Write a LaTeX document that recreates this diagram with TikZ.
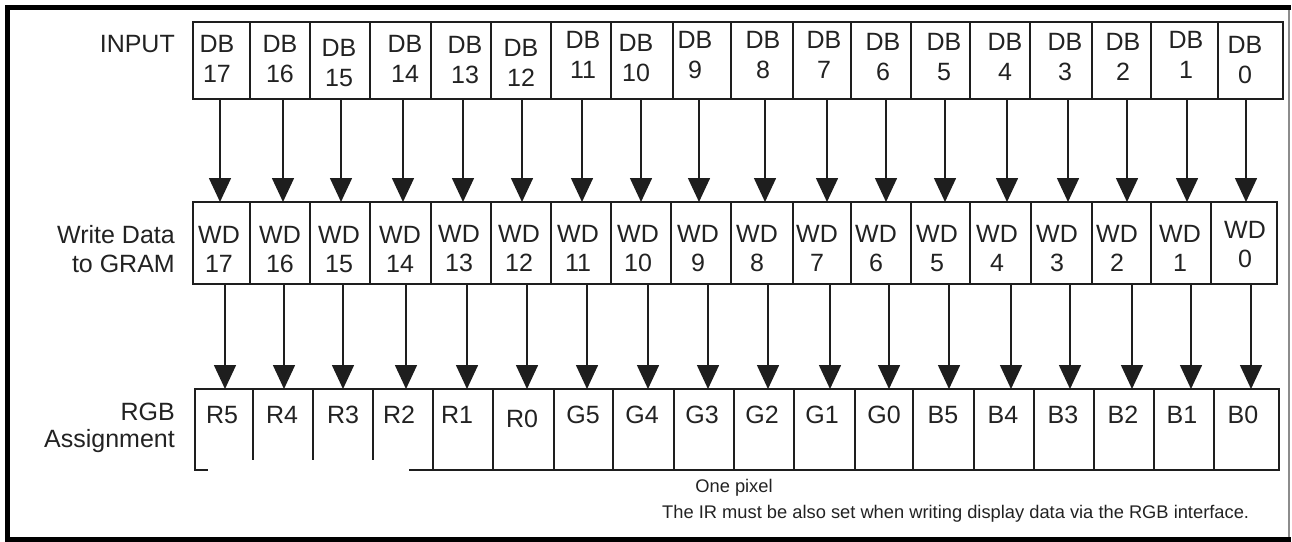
\documentclass[tikz,border=0pt]{standalone}
\usepackage{fontspec}
\setmainfont{Liberation Sans}
\usetikzlibrary{arrows.meta}
\definecolor{ink}{HTML}{1E1E1E}
\definecolor{txtc}{HTML}{222222}
\tikzset{
  cell/.style={draw=ink, line width=1.6pt, inner sep=0pt, outer sep=0pt, rectangle},
  txt/.style={text=txtc, inner sep=0pt, font=\fontsize{25}{29}\selectfont},
  small/.style={text=txtc, inner sep=0pt, font=\fontsize{18.3}{21}\selectfont},
  arr/.style={draw=ink, line width=1.6pt, -{Triangle[width=22pt,length=24pt]}},
}
\begin{document}
\begin{tikzpicture}[x=1pt,y=-1pt]
\useasboundingbox (0,0) rectangle (1292,541);
% frame
\draw[line width=1.2pt, black!45] (1289,7.5) -- (1289,539);
\draw[line width=5pt, black] (1291,7.5) -- (7.5,7.5) -- (7.5,539) -- (1291,539);
% row labels
\node[txt, anchor=base east] (linput) at (175,52) {INPUT};
\node[txt, anchor=base east] (lwd1) at (175,243) {Write Data};
\node[txt, anchor=base east] (lwd2) at (175,272) {to GRAM};
\node[txt, anchor=base east] (lrgb1) at (175,420) {RGB};
\node[txt, anchor=base east] (lrgb2) at (175,447) {Assignment};
% INPUT row
\foreach \n/\l/\r/\tx/\ty in {17/193/250/217/52, 16/250/310/280/52, 15/310/370/339/56,
  14/370/431/405/52, 13/431/491/465/53, 12/491/551/521/56, 11/551/611/583/48,
  10/611/673/636/51, 9/673/731/695/48, 8/731/793/763/48, 7/793/851/824/48,
  6/851/911/883/50, 5/911/970/944/50, 4/970/1030/1005/50, 3/1030/1092/1065/50,
  2/1092/1151/1123/50, 1/1151/1218/1186/48, 0/1218/1283/1245/53}{
  \pgfmathsetmacro\cw{\r-\l}
  \node[cell, minimum width=\cw pt, minimum height=77pt] (d\n) at ({(\l+\r)/2},60.5) {};
  \node[txt, anchor=base] (dta\n) at (\tx,\ty) {DB};
  \node[txt, anchor=base] (dtb\n) at (\tx,\ty+30) {\n};
}
% WD row
\foreach \n/\l/\r/\tx/\ty in {17/193/250/219/243, 16/250/310/280/243, 15/310/370/339/243,
  14/370/431/400/243, 13/431/491/459/242, 12/491/551/519/242, 11/551/611/578/242,
  10/611/671/638/242, 9/671/731/698/242, 8/731/793/757/242, 7/793/851/817/242,
  6/851/911/876/242, 5/911/970/937/242, 4/970/1031/997/242, 3/1031/1092/1057/242,
  2/1092/1151/1117/242, 1/1151/1211/1180/242, 0/1211/1277/1245/238}{
  \pgfmathsetmacro\cw{\r-\l}
  \node[cell, minimum width=\cw pt, minimum height=82pt] (w\n) at ({(\l+\r)/2},243) {};
  \node[txt, anchor=base] (wta\n) at (\tx,\ty) {WD};
  \node[txt, anchor=base] (wtb\n) at (\tx,\ty+29) {\n};
}
% RGB row
\foreach \n/\t/\l/\r/\tx/\ty in {17/R5/195/253/222/423, 16/R4/253/313/282/423, 15/R3/313/373/343/423,
  14/R2/373/433/399/423, 13/R1/433/493/457/423, 12/R0/493/554/522/427, 11/G5/554/613/583/423,
  10/G4/613/674/642/423, 9/G3/674/734/702/423, 8/G2/734/794/762/423, 7/G1/794/855/822/423,
  6/G0/855/913/884/423, 5/B5/913/974/943/423, 4/B4/974/1034/1003/423, 3/B3/1034/1094/1063/423,
  2/B2/1094/1154/1123/423, 1/B1/1154/1214/1182/423, 0/B0/1214/1279/1243/423}{
  \pgfmathsetmacro\cw{\r-\l}
  \node[cell, minimum width=\cw pt, minimum height=81pt] (c\n) at ({(\l+\r)/2},429.5) {};
  \node[txt, anchor=base] (ct\n) at (\tx,\ty) {\t};
}
% white patch over the lower left of the RGB row
\fill[white] (208,460) rectangle (409,501);
% arrows INPUT -> WD
\foreach \n/\ax in {17/220, 16/283, 15/341, 14/403, 13/463, 12/522, 11/582, 10/641, 9/699,
  8/765, 7/827, 6/886, 5/945, 4/1007, 3/1068, 2/1127, 1/1187, 0/1246}{
  \coordinate (a\n) at (\ax,150);
  \draw[arr] (d\n.south -| a\n) -- (w\n.north -| a\n);
}
% arrows WD -> RGB
\foreach \n/\ax in {17/225, 16/284, 15/343, 14/406, 13/467, 12/527, 11/587, 10/648, 9/708,
  8/768, 7/830, 6/889, 5/949, 4/1011, 3/1070, 2/1132, 1/1191, 0/1251}{
  \coordinate (b\n) at (\ax,336);
  \draw[arr] (w\n.south -| b\n) -- (c\n.north -| b\n);
}
% notes
\node[small, anchor=base] (onepix) at (734,492) {One pixel};
\node[small, anchor=base west] (irnote) at (662,518) {The IR must be also set when writing display data via the RGB interface.};
\end{tikzpicture}
\end{document}
